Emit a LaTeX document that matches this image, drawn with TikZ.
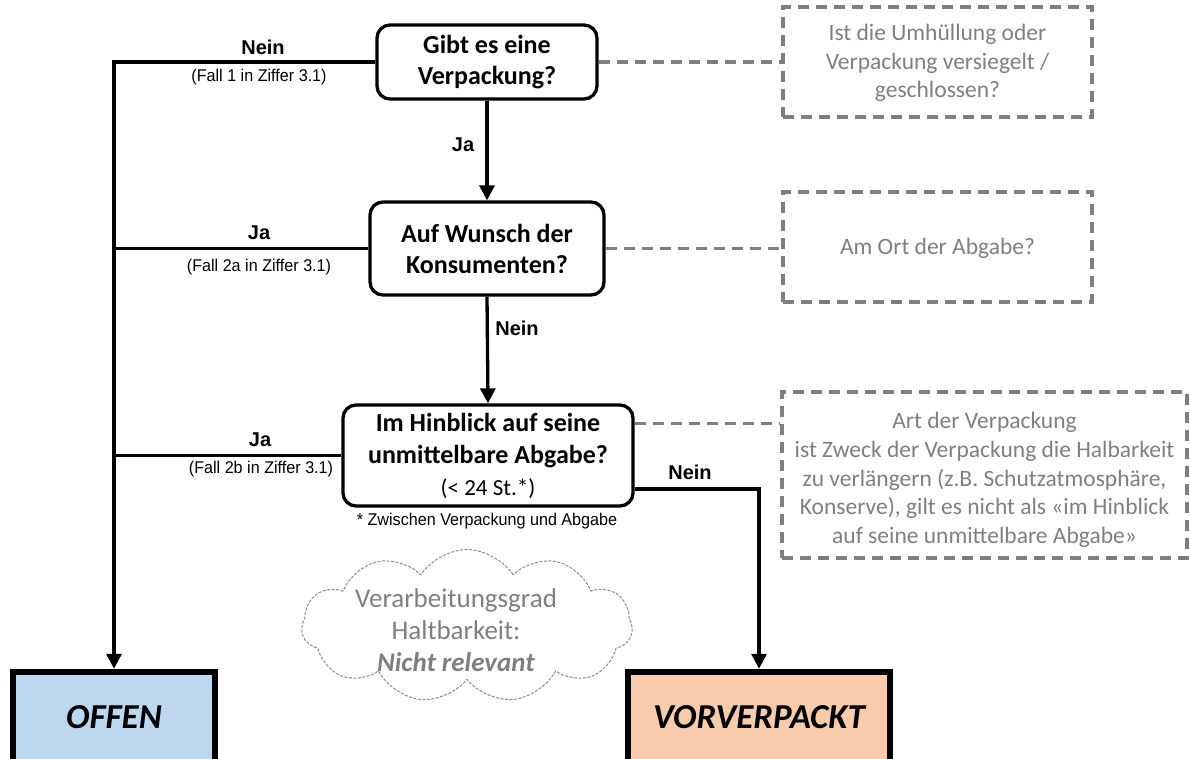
\documentclass[tikz,border=0pt]{standalone}
\usepackage{fontspec}
\setmainfont{Carlito}
\newfontfamily\arialfont{Liberation Sans}
\newfontfamily\narrowfont[FakeStretch=0.95]{Liberation Sans}
\usetikzlibrary{arrows.meta,shapes.symbols}
\definecolor{dgray}{HTML}{7F7F7F}
\definecolor{cgray}{HTML}{8C8C8C}
\definecolor{offenblue}{HTML}{BDD7EE}
\definecolor{vorfill}{HTML}{F8CBAD}
\tikzset{
  qbox/.style={draw, line width=3.3pt, rounded corners=13pt, fill=white, align=center,
    font=\fontsize{26}{31}\selectfont\bfseries, inner sep=0pt},
  dbox/.style={draw=dgray, line width=3.5pt, dash pattern=on 11pt off 7pt, inner sep=0pt},
  gtext/.style={text=dgray, align=center, font=\fontsize{23.5}{28.7}\selectfont, inner sep=0pt},
  conn/.style={line width=3.3pt, -{Triangle[length=15pt,width=15pt]}},
  plainline/.style={line width=3.3pt},
  dconn/.style={draw=dgray, line width=3.5pt, dash pattern=on 11pt off 7pt},
  lab/.style={font=\arialfont\bfseries\fontsize{20}{24}\selectfont, inner sep=0pt},
  note/.style={font=\narrowfont\fontsize{17}{20}\selectfont, inner sep=0pt},
  endbox/.style={draw, line width=6.5pt, font=\fontsize{35}{42}\selectfont\bfseries\itshape, inner sep=0pt}
}
\begin{document}
\begin{tikzpicture}[x=1pt,y=-1pt]
\useasboundingbox (0,0) rectangle (1190,758);

% question boxes
\node[qbox, minimum width=220, minimum height=74] (q1) at (487,62) {Gibt es eine\\Verpackung?};
\node[qbox, minimum width=234, minimum height=93] (q2) at (487,248.5) {Auf Wunsch der\\Konsumenten?};
\node[qbox, minimum width=290, minimum height=101, font=\fontsize{26}{32}\selectfont\bfseries] (q3) at (488,455.5)
  {Im Hinblick auf seine\\unmittelbare Abgabe?\\{\mdseries\fontsize{23}{32}\selectfont(< 24 St.*)}};

% dashed info boxes
\node[dbox, minimum width=309, minimum height=110] (d1) at (937.5,62) {};
\node[gtext] (d1t) at (937.5,63) {Ist die Umhüllung oder\\Verpackung versiegelt /\\geschlossen?};
\node[dbox, minimum width=309, minimum height=110] (d2) at (937.5,247) {};
\node[gtext] (d2t) at (937.5,248) {Am Ort der Abgabe?};
\node[dbox, minimum width=405, minimum height=166] (d3) at (984.5,475) {};
\node[gtext] (d3t) at (984.5,480) {Art der Verpackung\\ist Zweck der Verpackung die Halbarkeit\\zu verlängern (z.B. Schutzatmosphäre,\\Konserve), gilt es nicht als «im Hinblick\\auf seine unmittelbare Abgabe»};

% end boxes
\node[endbox, fill=offenblue, minimum width=202, minimum height=90] (offen) at (114,717) {OFFEN};
\node[endbox, fill=vorfill, minimum width=262, minimum height=90] (vor) at (759,717) {VORVERPACKT};

% cloud
\node[cloud, cloud puffs=11, cloud puff arc=115, cloud ignores aspect, draw=cgray, line width=1pt, dash pattern=on 3pt off 1.5pt,
  minimum width=331, minimum height=153] (cl) at (467,626) {};
\node[text=dgray, align=center, font=\fontsize{27}{32}\selectfont, inner sep=0pt] (clt) at (456,630)
  {Verarbeitungsgrad\\Haltbarkeit:\\\textbf{\textit{Nicht relevant}}};

% connectors
\draw[conn] (q1.west) -| (offen.north);
\draw[plainline] (q2.west) -- (q2.west -| offen.north);
\draw[plainline] (q3.west) -- (q3.west -| offen.north);
\draw[conn] (q1.south) -- (q2.north);
\draw[conn] (q2.south) -- (q3.north);
\draw[conn] ([yshift=-33.5pt]q3.east) -| (vor.north);

\draw[dconn] (q1.east) -- (d1.west);
\draw[dconn] (q2.east) -- (q2.east -| d2.west);
\draw[dconn] ([yshift=32pt]q3.east) -- ([yshift=32pt]q3.east -| d3.west);

% labels
\node[lab] (n1) at (263,47) {Nein};
\node[note] (f1) at (259,77) {(Fall 1 in Ziffer 3.1)};
\node[lab] (j1) at (463,145) {Ja};
\node[lab] (j2) at (259,233) {Ja};
\node[note] (f2) at (259,267) {(Fall 2a in Ziffer 3.1)};
\node[lab] (n2) at (517,328) {Nein};
\node[lab] (j3) at (260,440) {Ja};
\node[note] (f3) at (261,469) {(Fall 2b in Ziffer 3.1)};
\node[lab] (n3) at (690,472) {Nein};
\node[note] (fn) at (487,521) {* Zwischen Verpackung und Abgabe};
\end{tikzpicture}
\end{document}
